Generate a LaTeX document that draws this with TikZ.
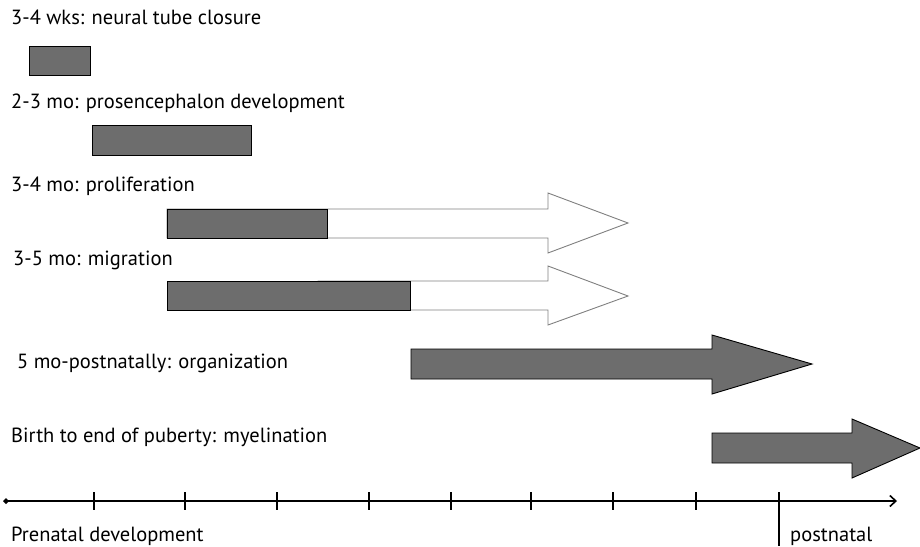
\documentclass[tikz,border=0pt]{standalone}
\usepackage{fontspec}
\setmainfont{PT Sans}
\usetikzlibrary{arrows.meta,positioning}
\definecolor{bargray}{HTML}{6D6D6D}
\tikzstyle{bar} = [draw=black, fill=bargray, line width=0.9pt]
\tikzstyle{hollow} = [draw=black!50, fill=white, line width=0.9pt]
\tikzstyle{lbl} = [anchor=base west, inner sep=0pt, font=\fontsize{20.5}{24}\selectfont]

\begin{document}
\begin{tikzpicture}[x=1pt,y=-1pt]
    \useasboundingbox (0,0) rectangle (920,546);

        % stage labels
        \node[lbl] (closure) at (11,24.5) {3-4 wks: neural tube closure};
        \node[lbl] (prosenc) at (11,108.5) {2-3 mo: prosencephalon development};
        \node[lbl] (prolif) at (11,191.5) {3-4 mo: proliferation};
        \node[lbl] (migr) at (13,265.5) {3-5 mo: migration};
        \node[lbl] (organ) at (17,368.5) {5 mo-postnatally: organization};
        \node[lbl] (myelin) at (11,442.5) {Birth to end of puberty: myelination};

        % plain bars
        \draw[bar] (29,46) rectangle (90,75);
        \draw[bar] (92,125) rectangle (251,155);

        % open-ended phases
        \draw[hollow] (167,209) -- (548,209) -- (548,193) -- (628,223) -- (548,253) -- (548,238) -- (167,238) -- cycle;
        \draw[bar] (167,209) rectangle (327,238);
        \draw[hollow] (318,281) -- (548,281) -- (548,266) -- (628,296) -- (548,325) -- (548,310) -- (318,310) -- cycle;
        \draw[bar] (167,281) rectangle (410,310);
        \draw[bar] (411,349) -- (712,349) -- (712,335) -- (812,364) -- (712,394) -- (712,379) -- (411,379) -- cycle;
        \draw[bar] (712,433) -- (852,433) -- (852,419) -- (920,448) -- (852,478) -- (852,463) -- (712,463) -- cycle;

        % time axis
        \coordinate (tstart) at (3,501);
        \coordinate (tend) at (897,501);
        \draw[line width=1.6pt, {Turned Square[length=6pt,width=6pt]}-{Straight Barb[length=6pt,width=11pt]}] (tstart) -- (tend);
        \foreach \t in {94,185,277,369,451,531,613,696}
            \draw[line width=1.2pt] (\t,492) -- (\t,510);
        \coordinate (birth) at (779,492);
        \draw[line width=1.2pt] (birth) -- (779,546);
        \node[lbl] (prenatal) at (11,541.5) {Prenatal development};
        \node[lbl] (postnatal) at (790,541.5) {postnatal};
\end{tikzpicture}
\end{document}
